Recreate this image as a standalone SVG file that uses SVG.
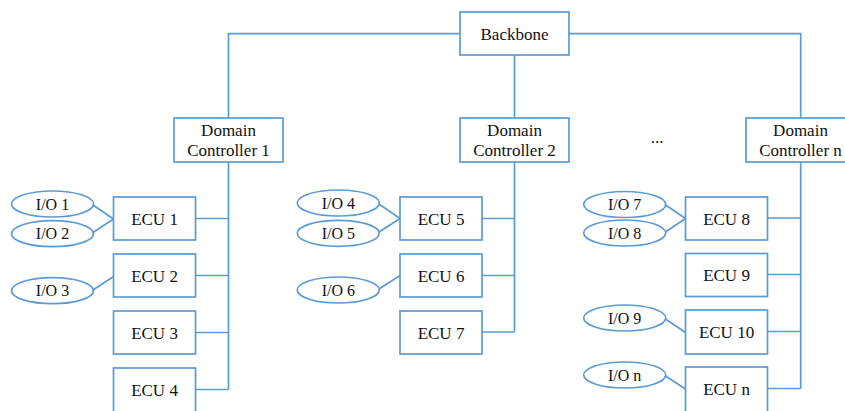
<svg xmlns="http://www.w3.org/2000/svg" width="845" height="411" viewBox="0 0 845 411">
<style>
.b{fill:#fff;stroke:#5b9bd5;stroke-width:1.7}
.c{fill:none;stroke:#5b9bd5;stroke-width:1.7}
text{font-size:17px;fill:#111;text-anchor:middle;dominant-baseline:central}
text.s{font-size:16px}
</style>
<rect width="845" height="411" fill="#fff"/>
<g id="connectors">
<path class="c" d="M460,33.7H228.5V118M569,33.7H800.7V118M514.5,55V118"/>
<path class="c" d="M228.5,162V389.5M195.5,218.5H228.5M195.5,275.5H228.5M195.5,332.5H228.5M195.5,389.5H228.5"/>
<path class="c" d="M514.5,162V332M482,218.5H514.5M482,275.5H514.5M482,332H514.5"/>
<path class="c" d="M800.7,162V388.5M767.5,218H800.7M767.5,274.5H800.7M767.5,331.5H800.7M767.5,388.5H800.7"/>
<path class="c" d="M93,205L113.5,219M93,232.5L113.5,219M93,290L113.5,276.5"/>
<path class="c" d="M379,204L400,218.5M379,232L400,218.5M379,289L400,275.5"/>
<path class="c" d="M665.5,205L685.5,218.5M665.5,232L685.5,218.5M665.5,319L685.5,332.5M665.5,376L685.5,389"/>
</g>
<g font-family="Liberation Serif, Times New Roman, serif">
<g id="backbone"><rect class="b" x="460" y="12" width="109" height="43"/><text font-family="Liberation Serif, serif" x="514.5" y="34">Backbone</text></g>
<g id="dc1"><rect class="b" x="174" y="118" width="109" height="44"/><text x="228.5" y="130.5">Domain</text><text x="228.5" y="150.5">Controller 1</text></g>
<g id="dc2"><rect class="b" x="460" y="118" width="109" height="44"/><text x="514.5" y="130.5">Domain</text><text x="514.5" y="150.5">Controller 2</text></g>
<g id="dcn"><rect class="b" x="746" y="118" width="109" height="44"/><text x="800.5" y="130.5">Domain</text><text x="800.5" y="150.5">Controller n</text></g>
<g id="dots"><text x="657" y="137">...</text></g>
<g id="ecu1"><rect class="b" x="113.5" y="197" width="82" height="43"/><text x="154.5" y="219">ECU 1</text></g>
<g id="ecu2"><rect class="b" x="113.5" y="254" width="82" height="43"/><text x="154.5" y="276">ECU 2</text></g>
<g id="ecu3"><rect class="b" x="113.5" y="311" width="82" height="43"/><text x="154.5" y="333">ECU 3</text></g>
<g id="ecu4"><rect class="b" x="113.5" y="368" width="82" height="50"/><text x="154.5" y="390">ECU 4</text></g>
<g id="ecu5"><rect class="b" x="400" y="197" width="82" height="43"/><text x="441" y="219">ECU 5</text></g>
<g id="ecu6"><rect class="b" x="400" y="254" width="82" height="43"/><text x="441" y="276">ECU 6</text></g>
<g id="ecu7"><rect class="b" x="400" y="311" width="82" height="43"/><text x="441" y="333">ECU 7</text></g>
<g id="ecu8"><rect class="b" x="685.5" y="197" width="82" height="43"/><text x="726.5" y="219">ECU 8</text></g>
<g id="ecu9"><rect class="b" x="685.5" y="253.5" width="82" height="43"/><text x="726.5" y="275.5">ECU 9</text></g>
<g id="ecu10"><rect class="b" x="685.5" y="310" width="82" height="44"/><text x="726.5" y="332.5">ECU 10</text></g>
<g id="ecun"><rect class="b" x="685.5" y="367" width="82" height="50"/><text x="726.5" y="389.5">ECU n</text></g>
<g id="io1"><ellipse class="b" cx="52.5" cy="204" rx="41" ry="13"/><text class="s" x="52.5" y="204">I/O 1</text></g>
<g id="io2"><ellipse class="b" cx="52.5" cy="233.7" rx="41" ry="13"/><text class="s" x="52.5" y="233.7">I/O 2</text></g>
<g id="io3"><ellipse class="b" cx="52.5" cy="290.7" rx="41" ry="13"/><text class="s" x="52.5" y="290.7">I/O 3</text></g>
<g id="io4"><ellipse class="b" cx="338.3" cy="203" rx="41" ry="13"/><text class="s" x="338.3" y="203">I/O 4</text></g>
<g id="io5"><ellipse class="b" cx="338.3" cy="233.3" rx="41" ry="13"/><text class="s" x="338.3" y="233.3">I/O 5</text></g>
<g id="io6"><ellipse class="b" cx="338.3" cy="290" rx="41" ry="13"/><text class="s" x="338.3" y="290">I/O 6</text></g>
<g id="io7"><ellipse class="b" cx="624.7" cy="204.5" rx="41" ry="13"/><text class="s" x="624.7" y="204.5">I/O 7</text></g>
<g id="io8"><ellipse class="b" cx="624.7" cy="233" rx="41" ry="13"/><text class="s" x="624.7" y="233">I/O 8</text></g>
<g id="io9"><ellipse class="b" cx="624.7" cy="318" rx="41" ry="13"/><text class="s" x="624.7" y="318">I/O 9</text></g>
<g id="ion"><ellipse class="b" cx="624.7" cy="375" rx="41" ry="13"/><text class="s" x="624.7" y="375">I/O n</text></g>
</g>
</svg>
